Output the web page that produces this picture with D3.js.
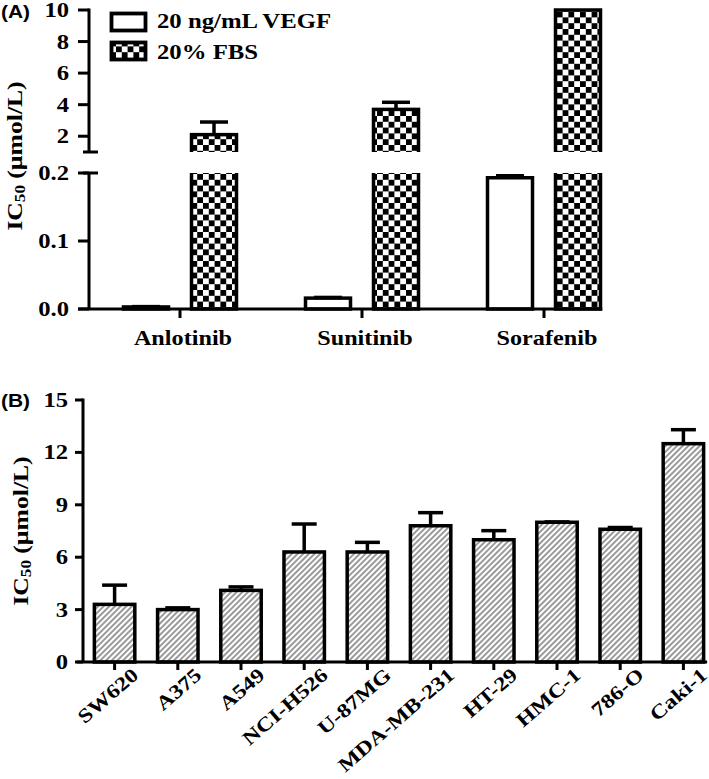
<!DOCTYPE html>
<html><head><meta charset="utf-8">
<script src="https://cdn.jsdelivr.net/npm/d3@7"></script>
<style>
body{margin:0;background:#fff}
svg{display:block}
text{font-family:"Liberation Serif","Times New Roman",serif;font-weight:bold;fill:#000}
.panel{font-family:"Liberation Sans",Arial,sans-serif}
</style></head><body>
<svg id="c" width="709" height="779"></svg>
<script>
// ---- Panel A data ----
const drugs = ["Anlotinib","Sunitinib","Sorafenib"];
const seriesNames = ["20 ng/mL VEGF","20% FBS"];
const vegfMean = [0.003, 0.016, 0.193];
const vegfErr  = [0.0005, 0.001, 0.003];
const fbsMean  = [2.1, 3.7, 10];
const fbsErr   = [0.8, 0.45, 0];
const upperTicks = [2,4,6,8,10];
const lowerTicks = [0,0.1,0.2];
// ---- Panel B data ----
const cellLines = ["SW620","A375","A549","NCI-H526","U-87MG","MDA-MB-231","HT-29","HMC-1","786-O","Caki-1"];
const cellMean  = [3.3,3.0,4.1,6.3,6.3,7.8,7.0,8.0,7.6,12.5];
const cellErr   = [1.1,0.1,0.2,1.6,0.55,0.75,0.52,0.02,0.1,0.8];
const bTicks    = [0,3,6,9,12,15];

const svg = d3.select("#c");
const SW = 3.5;
const defs = svg.append("defs");
const chk = defs.append("pattern").attr("id","checker").attr("patternUnits","userSpaceOnUse")
  .attr("width",11.6).attr("height",11.6);
chk.append("rect").attr("width",11.6).attr("height",11.6).attr("fill","#fff");
chk.append("rect").attr("width",5.8).attr("height",5.8).attr("fill","#000");
chk.append("rect").attr("x",5.8).attr("y",5.8).attr("width",5.8).attr("height",5.8).attr("fill","#000");
const hatch = defs.append("pattern").attr("id","hatch").attr("patternUnits","userSpaceOnUse")
  .attr("width",4).attr("height",4).attr("patternTransform","rotate(45)");
hatch.append("rect").attr("width",4).attr("height",4).attr("fill","#fff");
hatch.append("line").attr("x1",2).attr("x2",2).attr("y1",0).attr("y2",4)
  .attr("stroke","#111").attr("stroke-width",0.85);

function stretch(sel,k){
  sel.each(function(){
    const w=this.getComputedTextLength();
    this.setAttribute("textLength",w*k);
    this.setAttribute("lengthAdjust","spacingAndGlyphs");
  });
}
const fills = ["#fff","url(#checker)"];

// ================= Panel A =================
const axA = 89;
const xA = d3.scaleBand().domain(drugs).range([axA,635]).padding(0);
const xSub = d3.scalePoint().domain(seriesNames).range([-34,34]);
const barWA = 45;
const yLow = d3.scaleLinear().domain([0,0.2]).range([309,173]);
const yUp  = d3.scaleLinear().domain([1,10]).range([152,10]);

defs.append("clipPath").attr("id","clipLow").append("rect")
  .attr("x",0).attr("y",yLow(0.2)).attr("width",709).attr("height",yLow(0)-yLow(0.2)+5);
defs.append("clipPath").attr("id","clipUp").append("rect")
  .attr("x",0).attr("y",0).attr("width",709).attr("height",yUp(1));

const dataA = [];
drugs.forEach((d,i)=>{
  dataA.push({drug:d, s:seriesNames[0], v:vegfMean[i], e:vegfErr[i], f:fills[0]});
  dataA.push({drug:d, s:seriesNames[1], v:fbsMean[i], e:fbsErr[i], f:fills[1]});
});
const cx = d => xA(d.drug)+xA.bandwidth()/2+xSub(d.s);

const gLow = svg.append("g").attr("clip-path","url(#clipLow)");
gLow.selectAll("rect").data(dataA).join("rect")
  .attr("x",d=>cx(d)-barWA/2).attr("width",barWA)
  .attr("y",d=>yLow(Math.min(d.v,0.25)))
  .attr("height",d=>yLow(0)-yLow(Math.min(d.v,0.25)))
  .attr("fill",d=>d.f).attr("stroke","#000").attr("stroke-width",SW);
const gUp = svg.append("g").attr("clip-path","url(#clipUp)");
gUp.selectAll("rect").data(dataA.filter(d=>d.v>1)).join("rect")
  .attr("x",d=>cx(d)-barWA/2).attr("width",barWA)
  .attr("y",d=>yUp(Math.min(d.v,10)))
  .attr("height",d=>yUp(1)+20-yUp(Math.min(d.v,10)))
  .attr("fill",d=>d.f).attr("stroke","#000").attr("stroke-width",SW);
dataA.filter(d=>d.e>0).forEach(d=>{
  const ys = d.v>1 ? yUp : yLow;
  svg.append("line").attr("x1",cx(d)).attr("x2",cx(d))
    .attr("y1",ys(d.v)).attr("y2",ys(d.v+d.e)).attr("stroke","#000").attr("stroke-width",SW);
  svg.append("line").attr("x1",cx(d)-14).attr("x2",cx(d)+14)
    .attr("y1",ys(d.v+d.e)).attr("y2",ys(d.v+d.e)).attr("stroke","#000").attr("stroke-width",SW);
});

const axG = svg.append("g").attr("stroke","#000").attr("stroke-width",3);
axG.append("line").attr("x1",axA).attr("x2",axA).attr("y1",yUp(10)-1.5).attr("y2",yUp(1));
axG.append("line").attr("x1",axA).attr("x2",axA).attr("y1",yLow(0.2)).attr("y2",yLow(0));
axG.append("line").attr("x1",axA-6).attr("x2",axA+9).attr("y1",yUp(1)).attr("y2",yUp(1));
axG.append("line").attr("x1",axA-6).attr("x2",axA+9).attr("y1",yLow(0.2)).attr("y2",yLow(0.2));
upperTicks.forEach(t=>axG.append("line").attr("x1",axA-11).attr("x2",axA).attr("y1",yUp(t)).attr("y2",yUp(t)));
lowerTicks.forEach(t=>axG.append("line").attr("x1",axA-11).attr("x2",axA).attr("y1",yLow(t)).attr("y2",yLow(t)));
const lastRight = cx(dataA[dataA.length-1])+barWA/2+SW/2;
axG.append("line").attr("x1",axA-11).attr("x2",lastRight).attr("y1",yLow(0)).attr("y2",yLow(0));
drugs.forEach(d=>{
  const x = xA(d)+xA.bandwidth()/2;
  axG.append("line").attr("x1",x).attr("x2",x).attr("y1",yLow(0)).attr("y2",yLow(0)+9);
});
const tA = svg.append("g");
tA.selectAll("text.u").data(upperTicks).join("text").attr("class","u")
  .attr("x",axA-20).attr("y",d=>yUp(d)).attr("dy","0.34em").attr("text-anchor","end")
  .attr("font-size",20.5).text(d=>d);
tA.selectAll("text.l").data(lowerTicks).join("text").attr("class","l")
  .attr("x",axA-20).attr("y",d=>yLow(d)).attr("dy","0.34em").attr("text-anchor","end")
  .attr("font-size",20.5).text(d=>d3.format(".1f")(d));
stretch(tA.selectAll("text"),1.2);
const xlA = svg.append("g").selectAll("text").data(drugs).join("text")
  .attr("x",d=>xA(d)+xA.bandwidth()/2+3).attr("y",345).attr("text-anchor","middle")
  .attr("font-size",22).text(d=>d);
stretch(xlA,1.1);

function ylab(x,y){
  const t = svg.append("text").attr("transform",`translate(${x},${y}) rotate(-90)`)
    .attr("text-anchor","middle").attr("font-size",21);
  t.append("tspan").text("IC");
  t.append("tspan").attr("font-size",14).attr("dy",3).text("50");
  t.append("tspan").attr("dy",-3).text(" (\u00b5mol/L)");
  stretch(t,1.22);
}
ylab(22,156);

const lg = svg.append("g");
seriesNames.forEach((s,i)=>{
  lg.append("rect").attr("x",111.5).attr("y",13.5+i*29).attr("width",34).attr("height",17)
    .attr("fill",fills[i]).attr("stroke","#000").attr("stroke-width",3.8);
  lg.append("text").attr("x",157).attr("y",28+i*30.5).attr("font-size",21.5).text(s);
});
stretch(lg.selectAll("text"),1.15);

// ================= Panel B =================
const axB = 83;
const xB = d3.scaleBand().domain(cellLines).range([axB,715]).paddingInner(0.36).paddingOuter(0.18);
const yB = d3.scaleLinear().domain([0,15]).range([662,400]);
const dataB = cellLines.map((c,i)=>({c, v:cellMean[i], e:cellErr[i]}));
svg.append("g").selectAll("rect").data(dataB).join("rect")
  .attr("x",d=>xB(d.c)).attr("width",xB.bandwidth())
  .attr("y",d=>yB(d.v)).attr("height",d=>yB(0)-yB(d.v))
  .attr("fill","url(#hatch)").attr("stroke","#000").attr("stroke-width",SW);
const eB = svg.append("g").attr("stroke","#000").attr("stroke-width",SW);
dataB.forEach(d=>{
  const x = xB(d.c)+xB.bandwidth()/2;
  eB.append("line").attr("x1",x).attr("x2",x).attr("y1",yB(d.v)).attr("y2",yB(d.v+d.e));
  eB.append("line").attr("x1",x-12.5).attr("x2",x+12.5).attr("y1",yB(d.v+d.e)).attr("y2",yB(d.v+d.e));
});
const axGB = svg.append("g").attr("stroke","#000").attr("stroke-width",3);
axGB.append("line").attr("x1",axB).attr("x2",axB).attr("y1",yB(15)-1.5).attr("y2",yB(0));
bTicks.forEach(t=>axGB.append("line").attr("x1",axB-8).attr("x2",axB).attr("y1",yB(t)).attr("y2",yB(t)));
const lastB = xB(cellLines[cellLines.length-1])+xB.bandwidth()+SW;
axGB.append("line").attr("x1",axB-6).attr("x2",lastB).attr("y1",yB(0)).attr("y2",yB(0));
cellLines.forEach(c=>{
  const x = xB(c)+xB.bandwidth()/2;
  axGB.append("line").attr("x1",x).attr("x2",x).attr("y1",yB(0)).attr("y2",yB(0)+8);
});
const tB = svg.append("g").selectAll("text").data(bTicks).join("text")
  .attr("x",axB-15).attr("y",d=>yB(d)).attr("dy","0.34em").attr("text-anchor","end")
  .attr("font-size",20.5).text(d=>d);
stretch(tB,1.2);
const xlB = svg.append("g").selectAll("text").data(cellLines).join("text")
  .attr("transform",d=>`translate(${xB(d)+xB.bandwidth()/2+25},${yB(0)+15}) rotate(-41)`)
  .attr("text-anchor","end").attr("font-size",19.8).text(d=>d);
stretch(xlB,1.2);
ylab(28,531);

svg.append("text").attr("class","panel").attr("x",1).attr("y",18).attr("font-size",19).text("(A)");
svg.append("text").attr("class","panel").attr("x",1).attr("y",407).attr("font-size",19).text("(B)");
stretch(svg.selectAll("text.panel"),1.1);
</script>
</body></html>
